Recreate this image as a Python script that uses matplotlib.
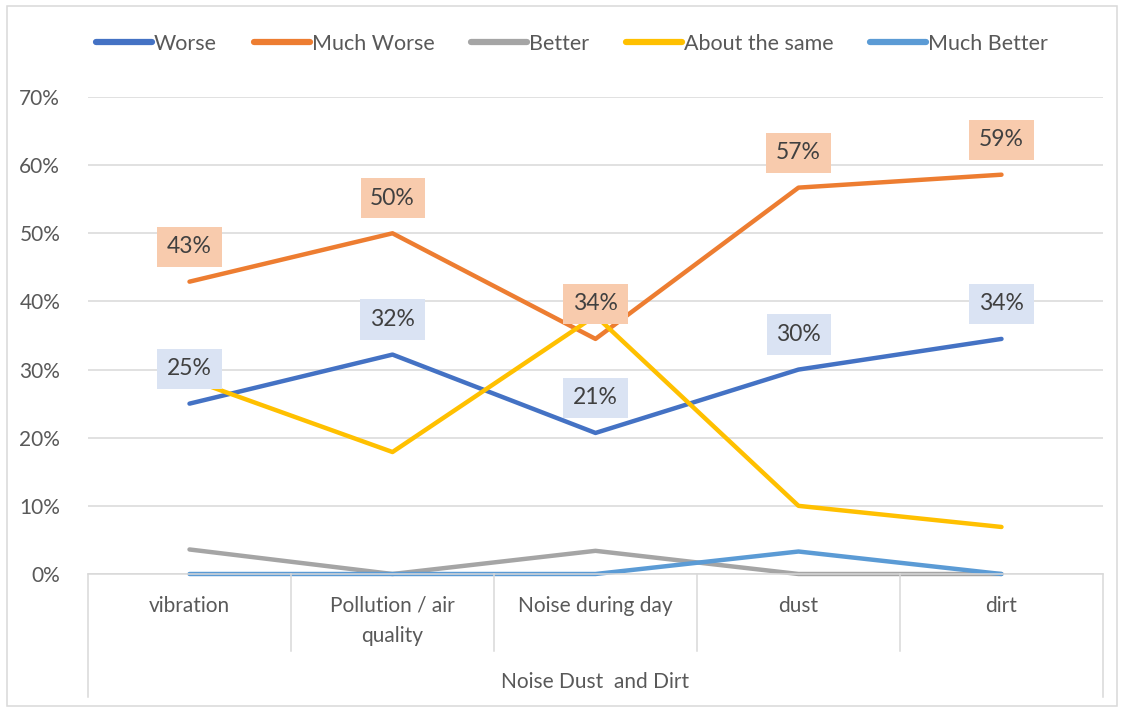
import matplotlib
matplotlib.use("Agg")
import matplotlib.pyplot as plt
from matplotlib.patches import Rectangle
from matplotlib.lines import Line2D

categories = ["vibration", "Pollution / air\nquality", "Noise during day", "dust", "dirt"]
group_label = "Noise Dust  and Dirt"
series_names = ["Worse", "Much Worse", "Better", "About the same", "Much Better"]
worse = [25.0, 32.2, 20.7, 30.0, 34.5]
much_worse = [42.9, 50.0, 34.5, 56.7, 58.6]
better = [3.6, 0.0, 3.4, 0.0, 0.0]
about_same = [28.6, 17.9, 37.9, 10.0, 6.9]
much_better = [0.0, 0.0, 0.0, 3.3, 0.0]
yticks = [0, 10, 20, 30, 40, 50, 60, 70]

colors = ["#4472C4", "#ED7D31", "#A5A5A5", "#FFC000", "#5B9BD5"]
series = [worse, much_worse, better, about_same, much_better]

plt.rcParams['font.family'] = ['Lato', 'DejaVu Sans']
W, H = 1122, 707
fig = plt.figure(figsize=(W / 100, H / 100), dpi=100)
fig.patch.set_facecolor("white")

x0, x1 = 88, 1103
y0, ytop = 574, 97
ax = fig.add_axes([x0 / W, 1 - y0 / H, (x1 - x0) / W, (y0 - ytop) / H])
n = len(categories)
xs = list(range(n))
ax.set_xlim(-0.5, n - 0.5)
ax.set_ylim(0, 70)

FS = 15
for s in ax.spines.values():
    s.set_visible(False)
ax.set_yticks(yticks)
ax.set_yticklabels([f"{v}%" for v in yticks], fontsize=FS, color="#595959")
ax.tick_params(axis='y', length=0, pad=20)
ax.set_xticks([])
ax.grid(axis='y', color="#D9D9D9", lw=1.1)
ax.set_axisbelow(True)

for name, vals, c in zip(series_names, series, colors):
    ax.plot(xs, vals, color=c, lw=3.2, solid_capstyle='round', label=name, zorder=3, clip_on=False)

# data labels
for vals, fc in [(worse, "#DAE3F3"), (much_worse, "#F8CBAD")]:
    for xi, v in zip(xs, vals):
        ax.annotate(f"{round(v):.0f}%", (xi, v), xytext=(0, 35), textcoords='offset pixels',
                    ha='center', va='center', fontsize=16.5, color="#404040", zorder=5,
                    bbox=dict(boxstyle='square,pad=0.42', fc=fc, ec='none'))

# category axis
def fx(px):
    return px / W
def fy(py):
    return 1 - py / H

fig.add_artist(Line2D([fx(x0), fx(x1)], [fy(y0), fy(y0)], color="#D9D9D9", lw=1.1))
step = (x1 - x0) / n
for k in range(n + 1):
    xp = x0 + k * step
    bottom = 697 if k in (0, n) else 651
    fig.add_artist(Line2D([fx(xp), fx(xp)], [fy(y0), fy(bottom)], color="#D9D9D9", lw=1.1))
for k, cat in enumerate(categories):
    xp = x0 + (k + 0.5) * step
    fig.text(fx(xp), fy(596), cat, ha='center', va='top', fontsize=FS, color="#595959",
             linespacing=1.6)
fig.text(fx((x0 + x1) / 2), fy(682), group_label, ha='center', va='center', fontsize=FS, color="#595959")

# legend
leg = fig.legend(loc='center', bbox_to_anchor=(fx(572), fy(44)), ncol=5, frameon=False,
                 fontsize=15.5, handlelength=2.6, handletextpad=0.1, columnspacing=1.7)
for t in leg.get_texts():
    t.set_color("#595959")
for h in leg.legend_handles:
    h.set_linewidth(4.5)

# chart border
fig.add_artist(Rectangle((fx(7), fy(706)), fx(1117) - fx(7), fy(6) - fy(706), transform=fig.transFigure,
                         fill=False, ec="#D9D9D9", lw=1.1))

fig.savefig("out.png", dpi=100, facecolor="white")
